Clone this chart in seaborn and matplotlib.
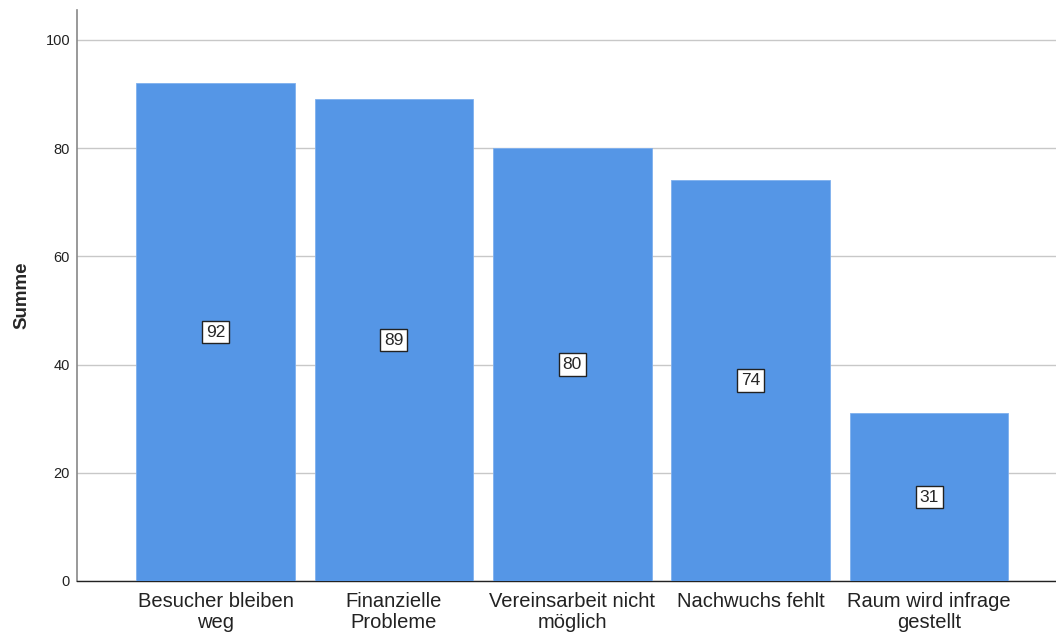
import matplotlib
matplotlib.use("Agg")
import matplotlib.pyplot as plt
import seaborn as sns
import pandas as pd

categories = ["Besucher bleiben\nweg", "Finanzielle\nProbleme", "Vereinsarbeit nicht\nmöglich",
              "Nachwuchs fehlt", "Raum wird infrage\ngestellt"]
values = [92, 89, 80, 74, 31]
y_ticks = [0, 20, 40, 60, 80, 100]

sns.set_theme(style="white")
plt.rcParams["font.family"] = ["Liberation Sans", "DejaVu Sans"]

df = pd.DataFrame({"Kategorie": categories, "Summe": values})

fig = plt.figure(figsize=(10.56, 6.32), dpi=100)
ax = fig.add_axes([77 / 1056, 1 - 581 / 632, (1056 - 77) / 1056, (581 - 10) / 632])

sns.barplot(data=df, x="Kategorie", y="Summe", color="#5596E6", saturation=1,
            width=0.89, edgecolor="#7fb0ee", linewidth=0.6, ax=ax, zorder=3)

ax.set_ylim(0, 105.5)
ax.set_xlim(-0.777, 4.712)
ax.set_yticks(y_ticks)
ax.yaxis.grid(True, color="#c8c8c8", linewidth=1.0, zorder=0)
ax.set_axisbelow(True)

ax.tick_params(axis="y", labelsize=10.5, length=0, pad=5, colors="#222222")
ax.tick_params(axis="x", labelsize=14.5, length=0, pad=8, colors="#222222")
for lbl in ax.get_xticklabels():
    lbl.set_linespacing(1.1)

ax.set_xlabel("")
ax.set_ylabel("Summe", fontsize=13.5, fontweight="bold", labelpad=11)

for s in ["top", "right"]:
    ax.spines[s].set_visible(False)
ax.spines["left"].set_color("#888888")
ax.spines["left"].set_linewidth(1.2)
ax.spines["bottom"].set_color("#222222")
ax.spines["bottom"].set_linewidth(1.0)

for i, v in enumerate(values):
    ax.text(i, v / 2, str(v), ha="center", va="center", fontsize=12.5, zorder=5,
            bbox=dict(boxstyle="square,pad=0.22", facecolor="white", edgecolor="#222222", linewidth=1.0))

fig.savefig("out.png", dpi=100)
